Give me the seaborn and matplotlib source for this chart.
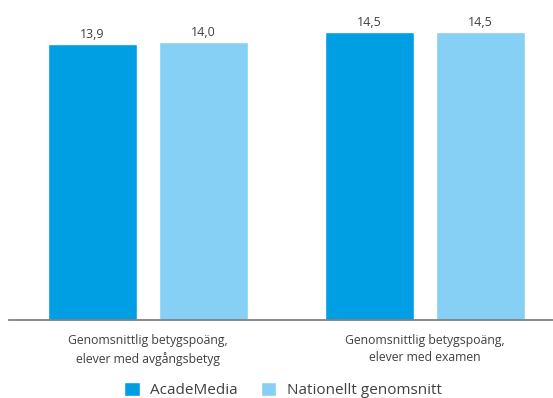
import matplotlib
matplotlib.use("Agg")
from matplotlib import pyplot as plt
import pandas as pd
import seaborn as sns

categories = ["Genomsnittlig betygspoäng,\nelever med avgångsbetyg",
              "Genomsnittlig betygspoäng,\nelever med examen"]
series = ["AcadeMedia", "Nationellt genomsnitt"]
academedia = [13.9, 14.5]
nationellt = [14.0, 14.5]

colors = ["#009FE3", "#86D0F5"]
text_color = "#404040"

df = pd.DataFrame({
    "kategori": categories * 2,
    "serie": [series[0]] * 2 + [series[1]] * 2,
    "varde": academedia + nationellt,
})

sns.set_style("white")
plt.rcParams["font.family"] = ["Open Sans", "DejaVu Sans"]

fig = plt.figure(figsize=(5.53, 3.98), dpi=100)
ax = fig.add_axes([9 / 553, 78 / 398, 544 / 553, 318 / 398])

sns.barplot(data=df, x="kategori", y="varde", hue="serie", palette=colors,
            width=0.8, gap=0.2, saturation=1, ax=ax, legend=True)

for cont in ax.containers:
    labels = [f"{v:.1f}".replace(".", ",") for v in cont.datavalues]
    ax.bar_label(cont, labels=labels, padding=2, fontsize=9, color=text_color)

ax.set_ylim(0, 16)
ax.set_xlim(-0.502, 1.462)
ax.set_xlabel("")
ax.set_ylabel("")
ax.set_yticks([])
ax.tick_params(axis="x", length=0, pad=10, labelsize=8.8, labelcolor=text_color)
for lbl in ax.get_xticklabels():
    lbl.set_linespacing(1.45)
for s in ["top", "right", "left"]:
    ax.spines[s].set_visible(False)
ax.spines["bottom"].set_color("#808080")
ax.spines["bottom"].set_linewidth(1.3)

handles, labels = ax.get_legend_handles_labels()
ax.get_legend().remove()
fig.legend(handles, labels, loc="lower center", bbox_to_anchor=(0.512, -0.035),
           ncol=2, frameon=False, fontsize=11, handlelength=1.0, handleheight=1.0,
           handletextpad=0.7, columnspacing=1.5, labelcolor=text_color)

fig.savefig("out.png", dpi=100)
